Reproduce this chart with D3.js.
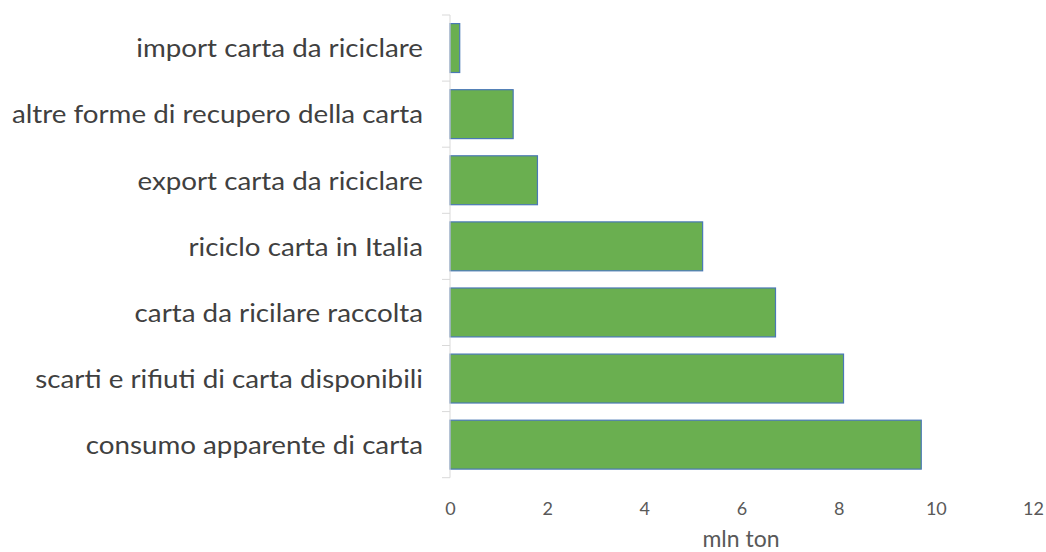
<!DOCTYPE html>
<html>
<head>
<meta charset="utf-8">
<script src="https://cdn.jsdelivr.net/npm/d3@7"></script>
<style>
  html, body { margin: 0; padding: 0; background: #fff; }
  svg { display: block; }
  text { font-family: Lato, "Open Sans", sans-serif; }
</style>
</head>
<body>
<svg id="chart" width="1046" height="552"></svg>
<script>
const categories = [
  "import carta da riciclare",
  "altre forme di recupero della carta",
  "export carta da riciclare",
  "riciclo carta in Italia",
  "carta da ricilare raccolta",
  "scarti e rifiuti di carta disponibili",
  "consumo apparente di carta"
];
const values = [0.2, 1.3, 1.8, 5.2, 6.7, 8.1, 9.7];
const xTicks = [0, 2, 4, 6, 8, 10, 12];
const xTitle = "mln ton";

(function () {
const svg = d3.select("#chart");
const plotLeft = 450, plotRight = 1033, plotTop = 15, plotBottom = 477.7;
const labelStretch = 1.11;

const x = d3.scaleLinear().domain([0, 12]).range([plotLeft, plotRight]);
const y = d3.scaleBand().domain(categories).range([plotTop, plotBottom])
  .paddingInner(0.26).paddingOuter(0.13);

const data = categories.map((c, i) => ({ c, v: values[i] }));

// bars
svg.append("g").selectAll("rect").data(data).join("rect")
  .attr("x", x(0))
  .attr("y", d => y(d.c))
  .attr("width", d => x(d.v) - x(0))
  .attr("height", y.bandwidth())
  .attr("fill", "#6AAF50")
  .attr("stroke", "#4A78B5")
  .attr("stroke-width", 1.2);

// y axis line + boundary ticks
const step = y.step();
const gap = step * y.paddingInner();
const bounds = categories.map(c => y(c) - gap / 2).concat([y(categories[categories.length - 1]) + y.bandwidth() + gap / 2]);
const ax = svg.append("g");
ax.append("line")
  .attr("x1", x(0)).attr("x2", x(0))
  .attr("y1", bounds[0]).attr("y2", bounds[bounds.length - 1])
  .attr("stroke", "#D9D9D9").attr("stroke-width", 1);
ax.selectAll("line.tk").data(bounds).join("line").attr("class", "tk")
  .attr("x1", x(0) - 8).attr("x2", x(0))
  .attr("y1", d => d).attr("y2", d => d)
  .attr("stroke", "#D9D9D9").attr("stroke-width", 1);

// category labels
const yAxis = d3.axisLeft(y).tickSize(0).tickPadding(27);
const gy = svg.append("g").attr("transform", `translate(${x(0)},0)`).call(yAxis);
gy.select(".domain").remove();
gy.selectAll("text")
  .attr("fill", "#404040")
  .attr("x", -27 / labelStretch)
  .attr("transform", `scale(${labelStretch},1)`)
  .style("font-size", "25px")
  .style("font-family", "Lato, 'Open Sans', sans-serif")
  .attr("dy", "0.37em");

// x tick labels
const xAxis = d3.axisBottom(x).tickValues(xTicks).tickSize(0).tickPadding(0);
const gx = svg.append("g").attr("transform", `translate(0,515)`).call(xAxis);
gx.select(".domain").remove();
gx.selectAll("text")
  .attr("fill", "#595959")
  .attr("dy", "0")
  .style("font-size", "18px")
  .style("font-family", "Lato, 'Open Sans', sans-serif");

// x axis title
svg.append("text")
  .attr("x", (x(0) + x(12)) / 2 - 0.5)
  .attr("y", 546.5)
  .attr("text-anchor", "middle")
  .attr("fill", "#595959")
  .style("font-size", "23px")
  .text(xTitle);
})();
</script>
</body>
</html>
